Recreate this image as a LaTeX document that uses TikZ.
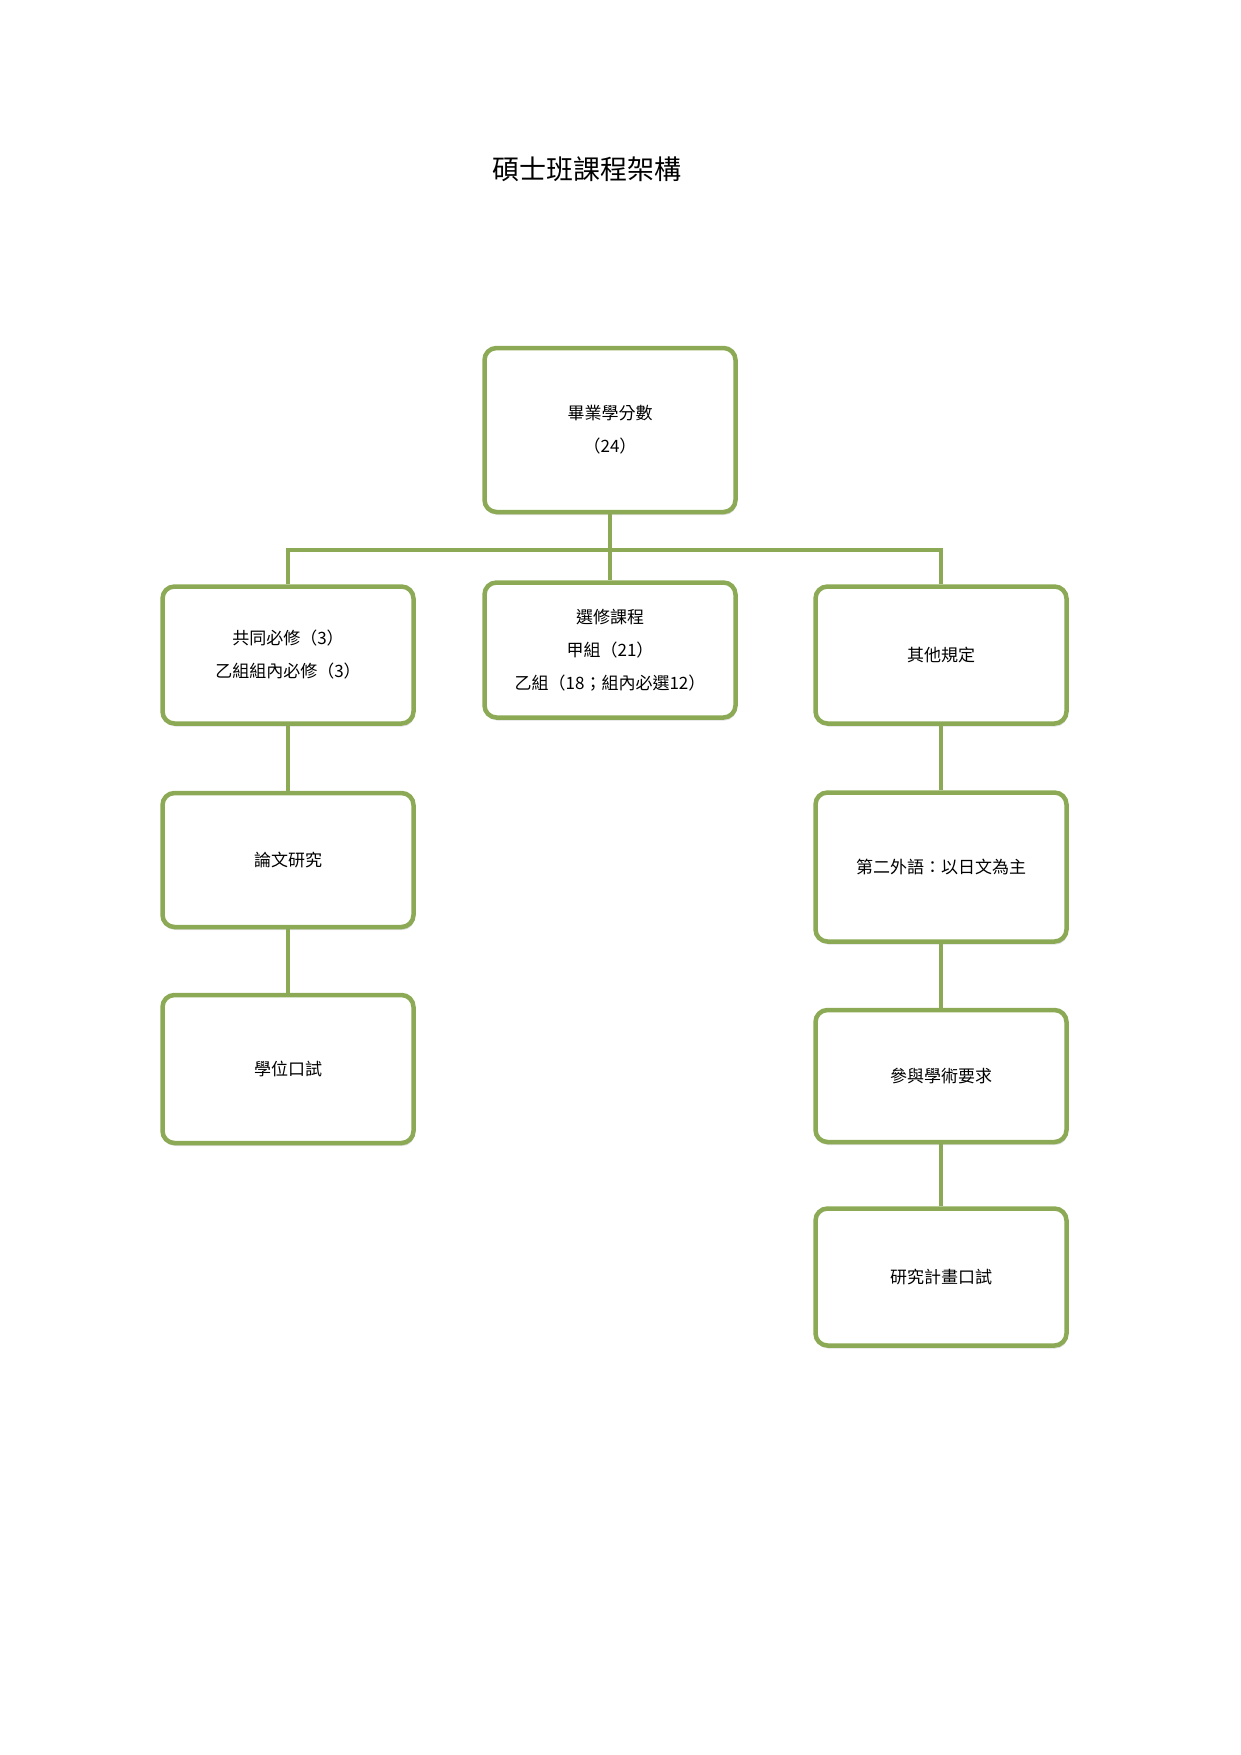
\documentclass[tikz,border=0pt]{standalone}
\usepackage{fontspec}
\setmainfont{Noto Sans CJK TC}
\usetikzlibrary{shadows}
\definecolor{gr}{HTML}{8CAA55}
\begin{document}
\begin{tikzpicture}[x=1pt,y=-1pt,
 box/.style={draw=gr,line width=4.5pt,rounded corners=12pt,fill=white,
   drop shadow={shadow xshift=1pt,shadow yshift=-3pt,opacity=0.25},
   align=center,font=\fontsize{17}{33}\selectfont},
 ln/.style={draw=gr,line width=3.5pt}]
\useasboundingbox (0,0) rectangle (1241,1755);
\node[font=\fontsize{27}{30}\selectfont] (title) at (587,169) {碩士班課程架構};
\node[box,minimum width=251pt,minimum height=164pt] (top) at (610,430) {畢業學分數\\（24）};
\node[box,minimum width=251pt,minimum height=137pt] (l1) at (288,655) {共同必修（3）\\ 乙組組內必修（3）};
\node[box,minimum width=251pt,minimum height=135pt] (m1) at (610,650) {選修課程\\甲組（21）\\乙組（18；組內必選12）};
\node[box,minimum width=251pt,minimum height=137pt] (r1) at (941,655) {其他規定};
\node[box,minimum width=251pt,minimum height=134pt] (l2) at (288,860) {論文研究};
\node[box,minimum width=251pt,minimum height=149pt] (r2) at (941,867) {第二外語：以日文為主};
\node[box,minimum width=251pt,minimum height=148pt] (l3) at (288,1069) {學位口試};
\node[box,minimum width=251pt,minimum height=132pt] (r3) at (941,1076) {參與學術要求};
\node[box,minimum width=251pt,minimum height=137pt] (r4) at (941,1277) {研究計畫口試};
\coordinate (bus) at (610,550);
\begin{scope}[on background layer/.try]
\end{scope}
\draw[ln] (top.south) -- (m1.north);
\draw[ln] (l1.north) |- (bus) -| (r1.north);
\draw[ln] (l1) -- (l2); \draw[ln] (l2) -- (l3);
\draw[ln] (r1) -- (r2); \draw[ln] (r2) -- (r3); \draw[ln] (r3) -- (r4);
\end{tikzpicture}
\end{document}
